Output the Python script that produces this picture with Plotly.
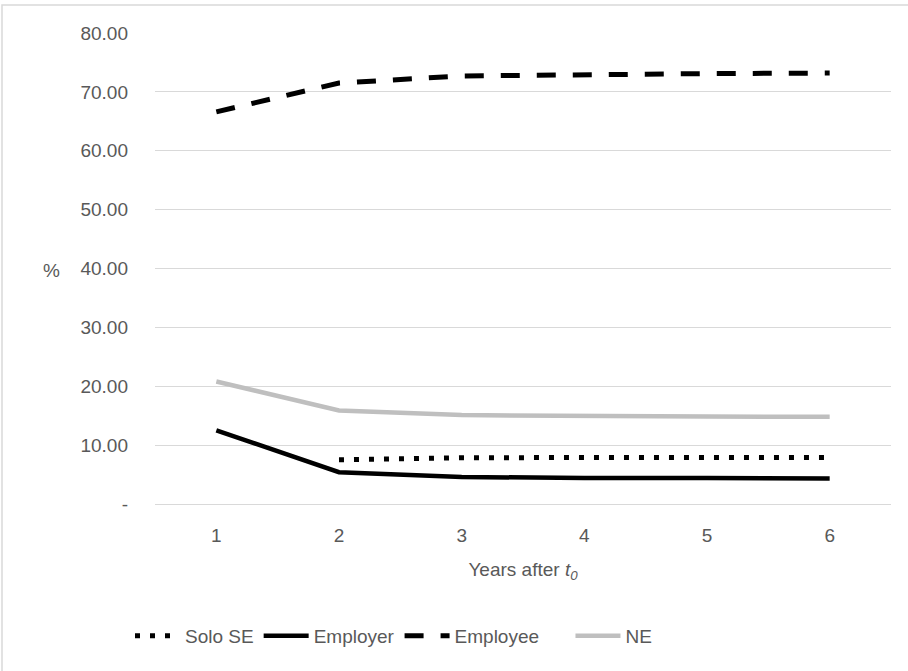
import plotly.graph_objects as go

years = [1, 2, 3, 4, 5, 6]
solo_se = [None, 7.5, 7.85, 7.9, 7.9, 7.9]
employer = [12.5, 5.4, 4.6, 4.4, 4.4, 4.35]
employee = [66.6, 71.5, 72.7, 73.0, 73.1, 73.2]
ne = [20.8, 15.9, 15.1, 14.9, 14.85, 14.8]
series_names = ["Solo SE", "Employer", "Employee", "NE"]
ytick_vals = [0, 10, 20, 30, 40, 50, 60, 70, 80]
ytick_text = ["-", "10.00", "20.00", "30.00", "40.00", "50.00", "60.00", "70.00", "80.00"]

FONT = "Liberation Sans, Arial"
GREY_TXT = "#595959"
FS = 19
PAD = "\u00a0" * 5

fig = go.Figure()
fig.add_trace(go.Scatter(x=years, y=solo_se, name=series_names[0], mode="lines",
                         line=dict(color="black", width=5, dash="5px,10px")))
fig.add_trace(go.Scatter(x=years, y=employer, name=series_names[1], mode="lines",
                         line=dict(color="black", width=4.5)))
fig.add_trace(go.Scatter(x=years, y=employee, name=series_names[2] + PAD, mode="lines",
                         line=dict(color="black", width=5, dash="19px,17px")))
fig.add_trace(go.Scatter(x=years, y=ne, name=series_names[3], mode="lines",
                         line=dict(color="#bfbfbf", width=4.5)))

L, R, T, B = 155, 17, 33, 167
W, H = 908, 671
pw, ph = W - L - R, H - T - B

fig.update_layout(
    width=W, height=H,
    margin=dict(l=L, r=R, t=T, b=B),
    paper_bgcolor="white", plot_bgcolor="white",
    font=dict(family=FONT, size=FS, color=GREY_TXT),
    showlegend=True,
    legend=dict(orientation="h", x=(130 - L) / pw, xanchor="left",
                y=(504 - 636) / ph, yanchor="middle",
                font=dict(size=FS, color=GREY_TXT), itemwidth=45, tracegroupgap=0),
    xaxis=dict(type="category", range=[-0.5, 5.5], showgrid=False, zeroline=False,
               showline=False, ticks="", ticklabelstandoff=18,
               tickfont=dict(size=FS, color=GREY_TXT),
               title=dict(text="Years after <i>t</i><sub><i>0</i></sub>", standoff=17,
                          font=dict(size=FS, color=GREY_TXT))),
    yaxis=dict(range=[0, 80], tickvals=ytick_vals, ticktext=ytick_text,
               showgrid=True, gridcolor="#d9d9d9", gridwidth=1.3,
               zeroline=True, zerolinecolor="#d9d9d9", zerolinewidth=1.3,
               showline=False, ticks="", ticklabelstandoff=26,
               tickfont=dict(size=FS, color=GREY_TXT)),
    annotations=[dict(text="%", xref="paper", yref="paper", x=(51 - L) / pw,
                      y=(504 - 270) / ph, showarrow=False, xanchor="center",
                      yanchor="middle", font=dict(size=FS, color=GREY_TXT))],
    shapes=[dict(type="rect", xref="paper", yref="paper",
                 x0=(2 - L) / pw, x1=(912 - L) / pw,
                 y0=(504 - 675) / ph, y1=(504 - 5) / ph,
                 line=dict(color="#d9d9d9", width=1.5), layer="below")],
)

fig.write_html("out.html", config={"displayModeBar": False},
               post_script="document.body.style.margin='0';")
